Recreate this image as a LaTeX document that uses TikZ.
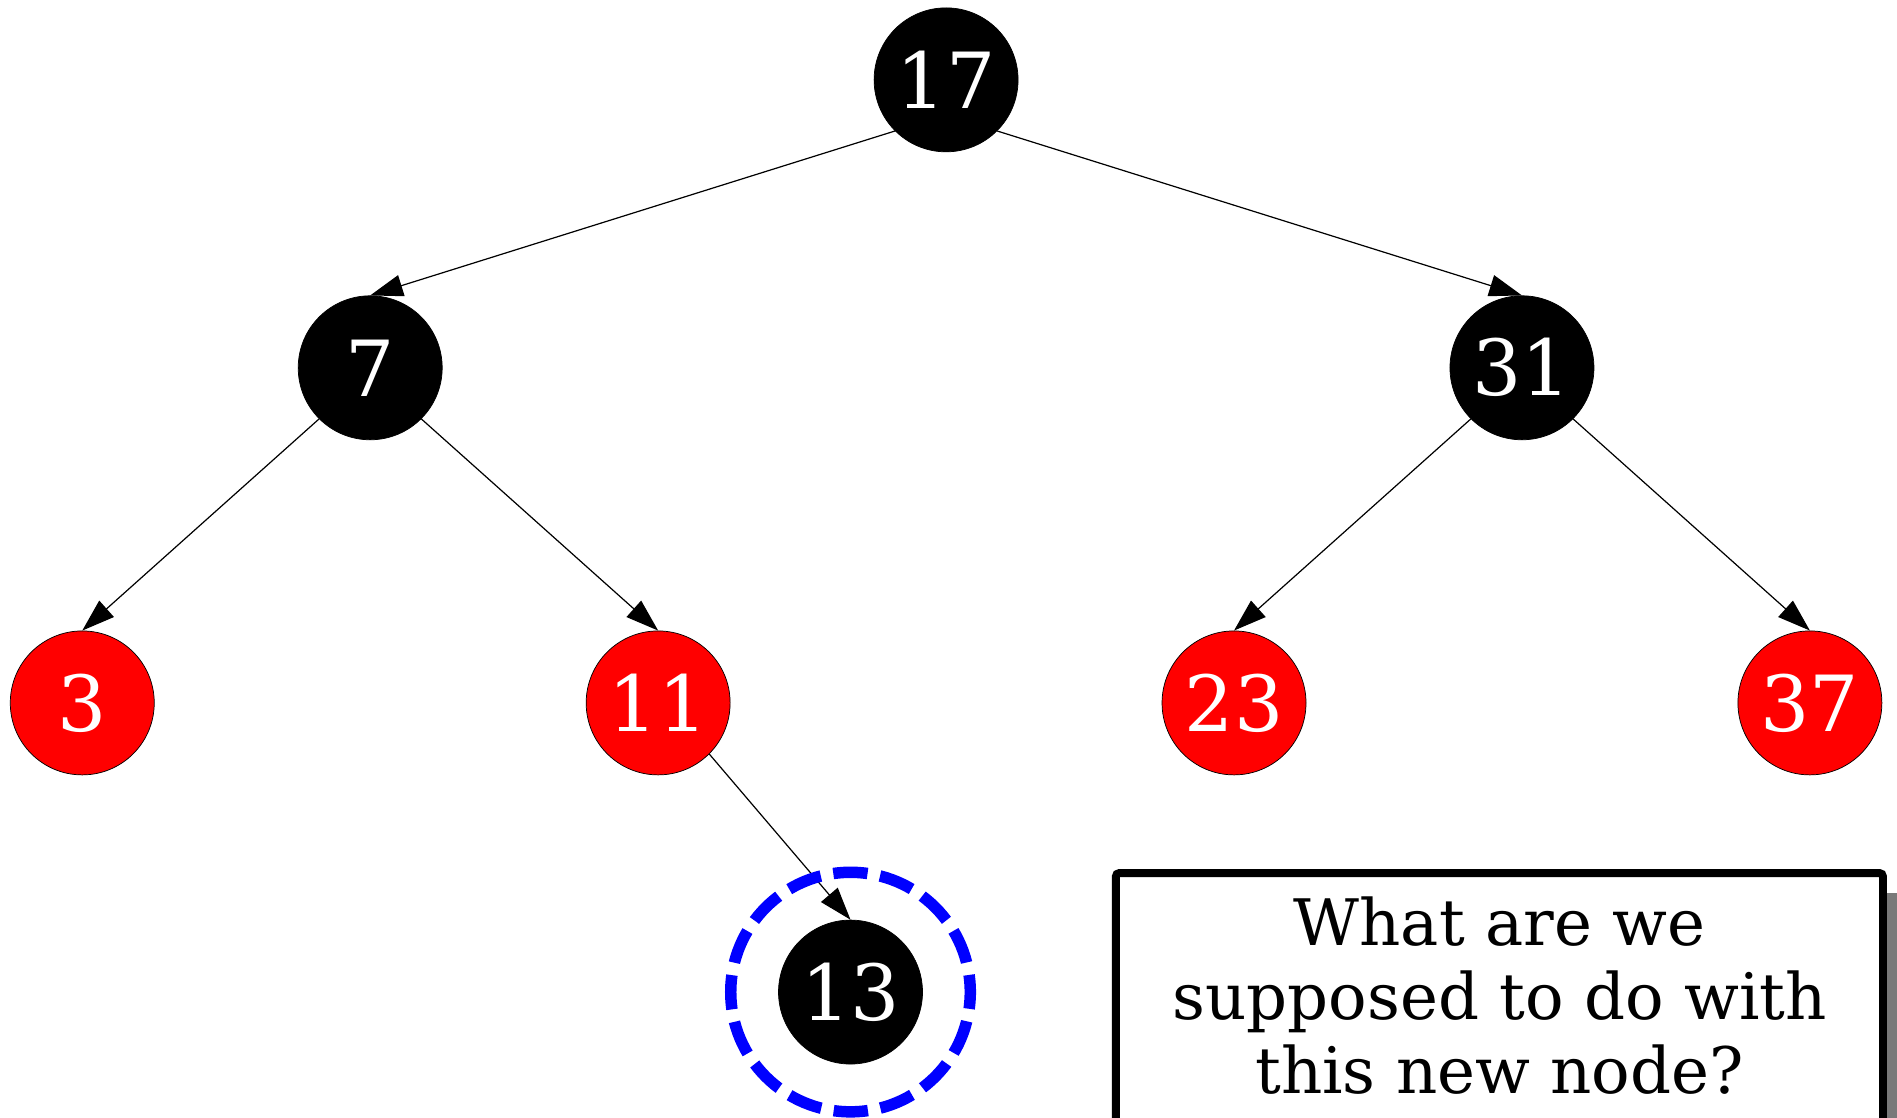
\documentclass[tikz,border=0pt]{standalone}
\usepackage{fontspec}
\setmainfont{DejaVu Serif}
\usetikzlibrary{arrows.meta}
\tikzset{
  rbnode/.style={circle, minimum size=119pt, inner sep=0pt, draw=black, line width=0.6pt,
    text=white, font=\fontsize{64}{64}\selectfont},
  blacknode/.style={rbnode, fill=black},
  rednode/.style={rbnode, fill=red},
  edge/.style={draw=black, line width=1pt, -{Triangle[length=27pt,width=18pt]}},
  ring/.style={draw=blue, line width=9.5pt, dash pattern=on 28.4pt off 10.5pt, dash phase=14.2pt},
  qbox/.style={draw=black, fill=white, line width=6.6pt, rounded corners=3pt},
  qshadow/.style={fill=gray!95!black},
  qtext/.style={align=center, inner sep=0pt, font=\fontsize{53}{61}\selectfont}
}
\begin{document}
\begin{tikzpicture}[x=1pt,y=-1pt]
\useasboundingbox (0,0) rectangle (1568,923.3);
\fill[white] (0,0) rectangle (1568,923.3);
\clip (0,0) rectangle (1568,923.3);

\node[blacknode] (n17) at (782,66) {17};
\node[blacknode] (n7) at (306,304) {7};
\node[blacknode] (n31) at (1258,304) {31};
\node[rednode] (n3) at (68,581) {3};
\node[rednode] (n11) at (544,581) {11};
\node[rednode] (n23) at (1020,581) {23};
\node[rednode] (n37) at (1496,581) {37};
\node[blacknode] (n13) at (703,820) {13};

\draw[edge] (n17.south west) -- (n7.north);
\draw[edge] (n17.south east) -- (n31.north);
\draw[edge] (n7.south west) -- (n3.north);
\draw[edge] (n7.south east) -- (n11.north);
\draw[edge] (n31.south west) -- (n23.north);
\draw[edge] (n31.south east) -- (n37.north);
\draw[edge] (n11.south east) -- (n13.north);

\draw[ring] (n13.center) circle[radius=99pt];

\fill[qshadow] (941,738) rectangle (1600,980);
\draw[qbox] (922.3,721.6) rectangle (1556.4,980);
\node[qtext] (q) at (1239.5,823) {What are we\\supposed to do with\\this new node?};
\end{tikzpicture}
\end{document}
